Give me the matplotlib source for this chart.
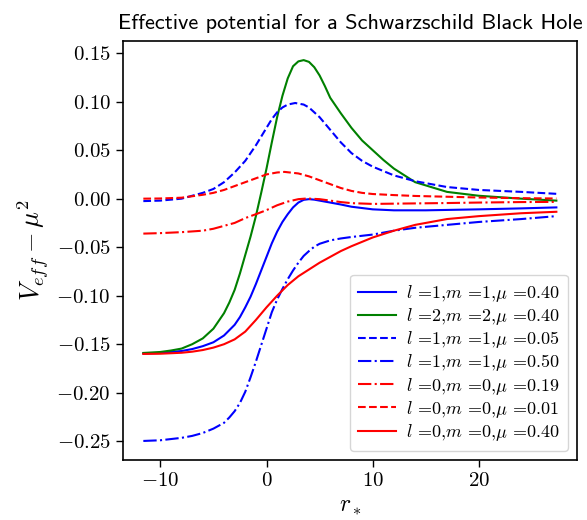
import matplotlib
matplotlib.use("Agg")
import matplotlib.pyplot as plt
from matplotlib.ticker import FuncFormatter

plt.rcParams['mathtext.fontset'] = 'cm'
plt.rcParams['font.family'] = ['cmr10', 'DejaVu Serif']
plt.rcParams['axes.unicode_minus'] = False

# r_* sample positions and V_eff - mu^2 values
x_green = [-11.6, -10, -9, -8, -7, -6, -5, -4, -3.5, -3, -2.5, -2, -1.5, -1, -0.5, 0, 0.5, 1, 1.5, 2, 2.5, 3, 3.5,
           4, 4.5, 5, 5.5, 6, 7, 8, 9, 10, 11, 12, 14, 17, 20, 24, 27.3]
y_green = [-0.159, -0.158, -0.1565, -0.1545, -0.150, -0.144, -0.134, -0.118, -0.107, -0.094, -0.077, -0.058,
           -0.039, -0.018, 0.006, 0.031, 0.058, 0.084, 0.106, 0.124, 0.1365, 0.1415, 0.1428,
           0.1410, 0.1355, 0.127, 0.116, 0.104, 0.088, 0.073, 0.060, 0.050, 0.040, 0.031, 0.017, 0.007, 0.003, 0.000, -0.002]

x_bdash = [-11.6, -10, -9, -8, -7, -6, -5, -4, -3, -2, -1.5, -1, -0.5, 0, 0.5, 1, 1.5, 2, 2.7, 3.5, 4, 5, 6, 7, 8, 9,
           10, 12, 14, 17, 20, 24, 27.3]
y_bdash = [-0.0025, -0.002, -0.001, 0.000, 0.003, 0.006, 0.010, 0.017, 0.027, 0.039, 0.047, 0.055, 0.064, 0.073,
           0.082, 0.089, 0.094, 0.097, 0.0986, 0.097, 0.094, 0.084, 0.071, 0.058, 0.047, 0.039,
           0.033, 0.024, 0.018, 0.012, 0.009, 0.007, 0.005]

x_rdash = [-11.6, -10, -8, -6, -5, -4, -3, -2, -1, 0, 1, 1.7, 3, 4, 5, 6, 7, 8, 9, 10, 12, 14, 17, 20, 24, 27.3]
y_rdash = [0.0000, 0.0002, 0.001, 0.004, 0.006, 0.009, 0.013, 0.017, 0.021, 0.025, 0.027, 0.0276, 0.026,
           0.023, 0.019, 0.015, 0.011, 0.0080, 0.0060, 0.0048, 0.0037, 0.0028, 0.002, 0.0012, 0.0005, 0.0002]

x_rdd = [-11.6, -10, -8, -6, -5, -4, -3, -2, -1, 0, 1, 2, 3, 3.8, 5, 6, 7, 8, 10, 13, 17, 20, 24, 27.3]
y_rdd = [-0.036, -0.0355, -0.0345, -0.033, -0.031, -0.028, -0.025, -0.020, -0.016, -0.0118, -0.0068, -0.003,
         -0.0005, 0.0002, -0.0005, -0.002, -0.0035, -0.0046, -0.0054, -0.005, -0.0045, -0.004, -0.0035, -0.0033]

x_bsol = [-11.6, -10, -8, -7, -6, -5, -4, -3, -2.5, -2, -1.5, -1, -0.5, 0, 0.5, 1, 1.5, 2, 2.5, 3, 3.5, 4, 4.5, 5,
          6, 7, 8, 10, 12, 15, 20, 24, 27.3]
y_bsol = [-0.1595, -0.159, -0.157, -0.155, -0.152, -0.148, -0.141, -0.130, -0.122, -0.112, -0.101, -0.088,
          -0.074, -0.060, -0.046, -0.034, -0.024, -0.016, -0.009, -0.004, -0.0012, -0.0005, -0.001, -0.002,
          -0.004, -0.006, -0.0083, -0.011, -0.012, -0.012, -0.011, -0.010, -0.009]

x_rsol = [-11.6, -10, -8, -7, -6, -5, -4, -3, -2, -1, 0, 1, 2, 3, 4, 5, 6, 7, 8, 10, 12, 14, 17, 20, 24, 27.3]
y_rsol = [-0.160, -0.1598, -0.1588, -0.1577, -0.156, -0.1535, -0.150, -0.145, -0.137, -0.125, -0.112, -0.100,
          -0.089, -0.080, -0.073, -0.066, -0.060, -0.054, -0.049, -0.040, -0.033, -0.027, -0.021, -0.018,
          -0.015, -0.0135]

x_bdd = [-11.6, -10, -8, -7, -6, -5, -4, -3.5, -3, -2.5, -2, -1.5, -1, -0.5, 0, 0.5, 1, 1.5, 2, 2.5, 3, 3.5, 4,
         4.5, 5, 6, 7, 8, 10, 12, 14, 17, 20, 24, 27.3]
y_bdd = [-0.2497, -0.249, -0.2465, -0.2445, -0.2415, -0.237, -0.231, -0.2255, -0.219, -0.2105, -0.199, -0.184,
         -0.168, -0.151, -0.134, -0.117, -0.104, -0.093, -0.083, -0.074, -0.066, -0.059, -0.054,
         -0.0495, -0.0465, -0.043, -0.041, -0.0395, -0.037, -0.033, -0.030, -0.027, -0.024, -0.021, -0.018]

labels = [r'$l$ =1,$m$ =1,$\mu$ =0.40',
          r'$l$ =2,$m$ =2,$\mu$ =0.40',
          r'$l$ =1,$m$ =1,$\mu$ =0.05',
          r'$l$ =1,$m$ =1,$\mu$ =0.50',
          r'$l$ =0,$m$ =0,$\mu$ =0.19',
          r'$l$ =0,$m$ =0,$\mu$ =0.01',
          r'$l$ =0,$m$ =0,$\mu$ =0.40']

fig = plt.figure(figsize=(5.87, 5.20), dpi=100)
ax = fig.add_axes([0.209, 0.1154, 0.774, 0.8056])

lw = 1.5
ax.plot(x_bsol, y_bsol, color='b', ls='-', lw=lw, label=labels[0])
ax.plot(x_green, y_green, color='g', ls='-', lw=lw, label=labels[1])
ax.plot(x_bdash, y_bdash, color='b', ls='--', lw=lw, label=labels[2])
ax.plot(x_bdd, y_bdd, color='b', ls='-.', lw=lw, label=labels[3])
ax.plot(x_rdd, y_rdd, color='r', ls='-.', lw=lw, label=labels[4])
ax.plot(x_rdash, y_rdash, color='r', ls='--', lw=lw, label=labels[5])
ax.plot(x_rsol, y_rsol, color='r', ls='-', lw=lw, label=labels[6])

ax.set_xticks([-10, 0, 10, 20])
ax.set_yticks([-0.25, -0.20, -0.15, -0.10, -0.05, 0.00, 0.05, 0.10, 0.15])
ax.xaxis.set_major_formatter(FuncFormatter(lambda v, p: r'$%d$' % round(v)))
ax.yaxis.set_major_formatter(FuncFormatter(lambda v, p: r'$%.2f$' % v))
ax.tick_params(labelsize=15, length=5, width=1.0)
for s in ax.spines.values():
    s.set_linewidth(1.2)

ax.set_xlabel(r'$r_*$', fontsize=17)
ax.set_ylabel(r'$V_{eff}-\mu^2$', fontsize=19)
ax.set_title('Effective potential for a Schwarzschild Black Hole', fontsize=16.0,
             family=['cmss10', 'DejaVu Sans'], pad=9)

ax.legend(loc='lower right', fontsize=13.0, handlelength=2.1, labelspacing=0.12,
          borderpad=0.45, handletextpad=0.55)

fig.savefig('out.png', dpi=100)
